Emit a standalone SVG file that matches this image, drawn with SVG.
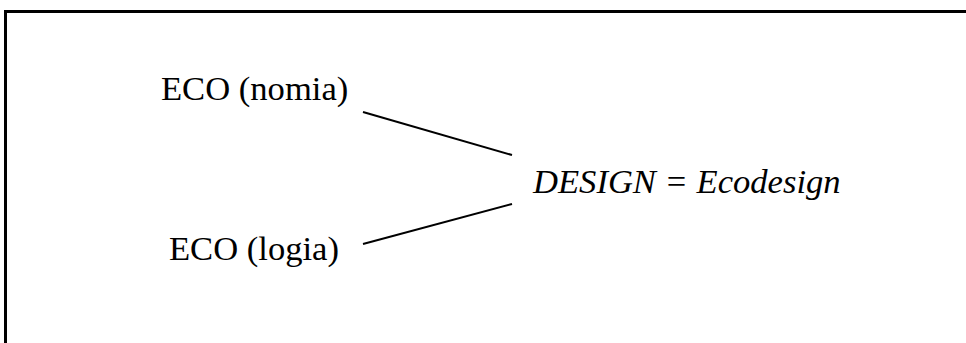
<svg xmlns="http://www.w3.org/2000/svg" width="966" height="343" viewBox="0 0 966 343">
<style>
.t{font-family:"Liberation Serif","Times New Roman",serif;font-size:34.6px;fill:#000}
.i{font-style:italic}
.c{stroke:#000;stroke-width:2;fill:none}
</style>
<rect width="966" height="343" fill="#fff"/>
<path d="M5.5 343 V11.5 H966" fill="none" stroke="#000" stroke-width="3"/>
<g id="eco-nomia"><text class="t" x="161" y="100">ECO (nomia)</text></g>
<g id="eco-logia"><text class="t" x="169" y="260">ECO (logia)</text></g>
<g id="design"><text class="t i" x="533" y="193">DESIGN = Ecodesign</text></g>
<g id="connectors">
<line class="c" x1="363" y1="112" x2="512" y2="155"/>
<line class="c" x1="363" y1="244" x2="512" y2="204"/>
</g>
</svg>
